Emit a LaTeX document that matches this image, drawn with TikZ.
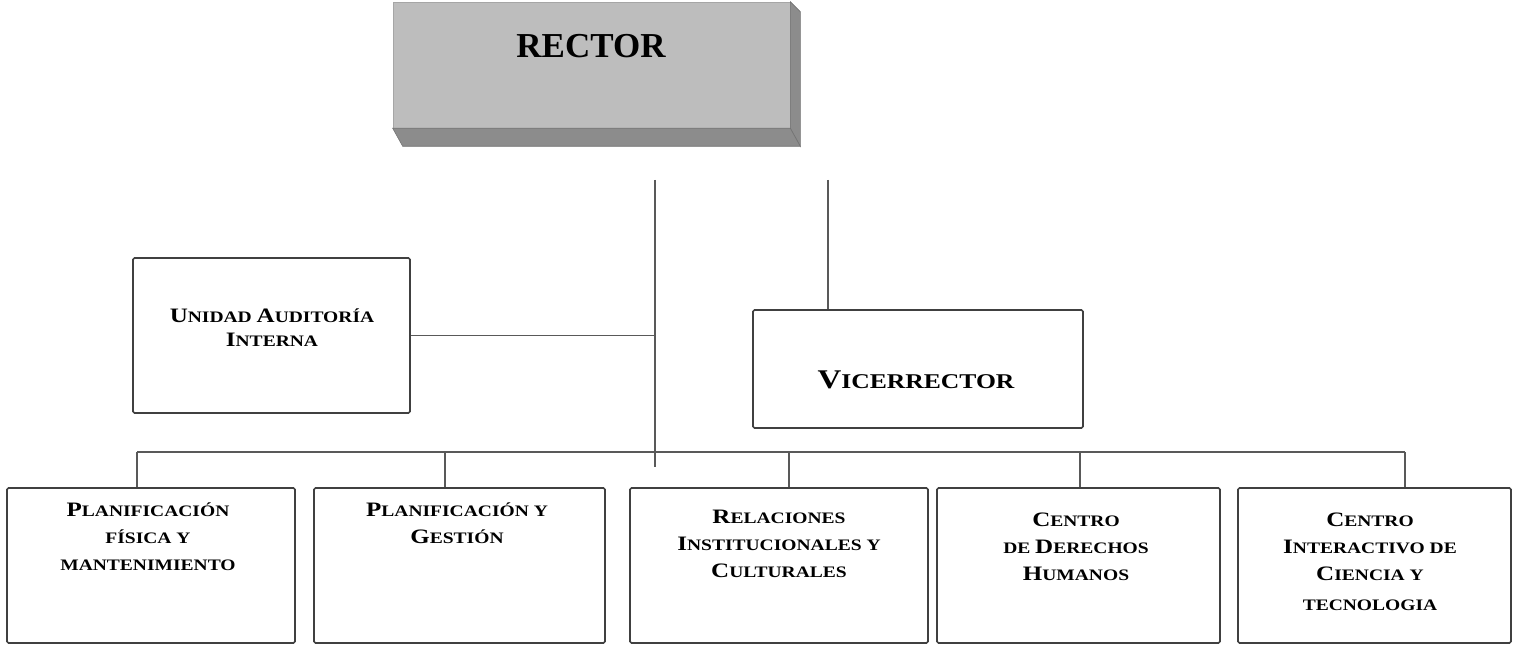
\documentclass[tikz,border=0pt]{standalone}
\usepackage{fontspec}
\setmainfont{Liberation Serif}
\newfontfamily\wideserif[FakeStretch=1.22]{Liberation Serif}
\newcommand\capsc[2]{{\fontsize{20.5}{20.5}\selectfont #1}{\fontsize{16}{16}\selectfont #2}}
\newcommand\bigsc[2]{{\fontsize{27}{27}\selectfont #1}{\fontsize{21}{21}\selectfont #2}}
\newcommand\firstline{\rule{0pt}{17pt}}
\begin{document}
\begin{tikzpicture}[x=1pt,y=-1pt,
  box/.style={draw=black!75, line width=1.6pt, rounded corners=1.5pt, fill=white},
  conn/.style={draw=black!65, line width=1.6pt},
  lbl/.style={anchor=north, inner sep=0pt, align=center,
    font={\wideserif\bfseries\fontsize{16}{27}\selectfont}},
  bevel/.style={fill=black!45, draw=black!55, line width=0.6pt}]
\useasboundingbox (0,0) rectangle (1513,655);
% RECTOR
\node[fill=black!26, draw=black!35, line width=0.6pt, minimum width=397pt, minimum height=126pt, inner sep=0pt] (rector) at (591.5,65) {};
\fill[bevel] (rector.north east) -- ++(10,10) -- ([shift={(10,18)}]rector.south east) -- (rector.south east) -- cycle;
\fill[bevel] (rector.south west) -- (rector.south east) -- ([shift={(10,18)}]rector.south east) -- ([shift={(10,18)}]rector.south west) -- cycle;
\node[inner sep=0pt, anchor=base, font={\bfseries\fontsize{35}{35}\selectfont}] (rectortxt) at (591,58) {RECTOR};
% second level
\node[box, minimum width=277pt, minimum height=155pt] (unidad) at (271.5,335.5) {};
\node[lbl] (unidadtxt) at (272,305) {\firstline\capsc{U}{NIDAD} \capsc{A}{UDITORÍA}\\[-3pt]\capsc{I}{NTERNA}};
\node[box, minimum width=330pt, minimum height=118pt] (vice) at (918,369) {};
\node[inner sep=0pt, anchor=base, font={\wideserif\bfseries}] (vicetxt) at (916,388) {\bigsc{V}{ICERRECTOR}};
% bottom row
\node[box, minimum width=288pt, minimum height=155pt] (b1) at (151,565.5) {};
\node[box, minimum width=291pt, minimum height=155pt] (b2) at (459.5,565.5) {};
\node[box, minimum width=298pt, minimum height=155pt] (b3) at (779,565.5) {};
\node[box, minimum width=283pt, minimum height=155pt] (b4) at (1078.5,565.5) {};
\node[box, minimum width=273pt, minimum height=155pt] (b5) at (1374.5,565.5) {};
\node[lbl] (t1) at (148,499) {\firstline\capsc{P}{LANIFICACIÓN}\\\capsc{}{FÍSICA Y}\\\capsc{}{MANTENIMIENTO}};
\node[lbl] (t2) at (457,499) {\firstline\capsc{P}{LANIFICACIÓN Y}\\\capsc{G}{ESTIÓN}};
\node[lbl] (t3) at (779,506) {\firstline\capsc{R}{ELACIONES}\\\capsc{I}{NSTITUCIONALES Y}\\\capsc{C}{ULTURALES}};
\node[lbl] (t4) at (1076,509) {\firstline\capsc{C}{ENTRO}\\\capsc{}{DE }\capsc{D}{ERECHOS}\\\capsc{H}{UMANOS}};
\node[lbl] (t5) at (1370,509) {\firstline\capsc{C}{ENTRO}\\\capsc{I}{NTERACTIVO DE}\\\capsc{C}{IENCIA Y}\\[3pt]\capsc{}{TECNOLOGIA}};
% connectors
\coordinate (top1) at (655,180);
\coordinate (top2) at (828,180);
\coordinate (mid) at (655,467);
\coordinate (bl) at (137,452);
\coordinate (br) at (1405,452);
\coordinate (d2) at (445,452);
\coordinate (d3) at (789,452);
\coordinate (d4) at (1080,452);
\draw[conn] (top1) -- (mid);
\draw[conn] (top2) -- (top2 |- vice.north);
\draw[conn] (unidad.east) -- (unidad.east -| top1);
\draw[conn] (bl) -- (br);
\draw[conn] (bl) -- (bl |- b1.north);
\draw[conn] (d2) -- (d2 |- b2.north);
\draw[conn] (d3) -- (d3 |- b3.north);
\draw[conn] (d4) -- (d4 |- b4.north);
\draw[conn] (br) -- (br |- b5.north);
\end{tikzpicture}
\end{document}
